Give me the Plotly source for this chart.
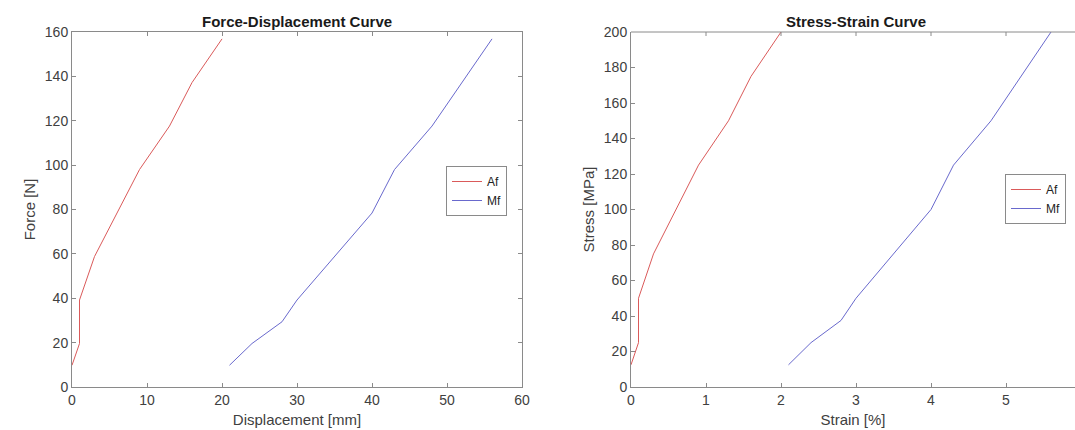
import plotly.graph_objects as go

# Force-displacement data
af_disp = [0, 1, 1, 3, 9, 13, 16, 20]
af_force = [9.8, 19.6, 39.2, 58.8, 98, 117.6, 137.2, 156.9]
mf_disp = [21, 24, 28, 30, 40, 43, 48, 56]
mf_force = [9.8, 19.6, 29.4, 39.2, 78.4, 98, 117.6, 156.9]

# Stress-strain data
af_strain = [0, 0.1, 0.1, 0.3, 0.9, 1.3, 1.6, 2.0]
af_stress = [12.5, 25, 50, 75, 125, 150, 175, 200]
mf_strain = [2.1, 2.4, 2.8, 3.0, 4.0, 4.3, 4.8, 5.6]
mf_stress = [12.5, 25, 37.5, 50, 100, 125, 150, 200]

RED = "rgb(218,90,90)"
BLUE = "rgb(105,105,205)"
AXC = "#8a8a8a"
TXT = "#404040"
FONT = "Liberation Sans, Arial, sans-serif"

W, H = 1075, 430
fig = go.Figure()

fig.add_trace(go.Scatter(x=af_disp, y=af_force, mode="lines", name="Af",
                         line=dict(color=RED, width=1), xaxis="x", yaxis="y", legend="legend"))
fig.add_trace(go.Scatter(x=mf_disp, y=mf_force, mode="lines", name="Mf",
                         line=dict(color=BLUE, width=1), xaxis="x", yaxis="y", legend="legend"))
fig.add_trace(go.Scatter(x=af_strain, y=af_stress, mode="lines", name="Af",
                         line=dict(color=RED, width=1), xaxis="x2", yaxis="y2", legend="legend2"))
fig.add_trace(go.Scatter(x=mf_strain, y=mf_stress, mode="lines", name="Mf",
                         line=dict(color=BLUE, width=1), xaxis="x2", yaxis="y2", legend="legend2"))

ydom = [1 - 387 / H, 1 - 32 / H]
x1dom = [72 / W, 522 / W]
x2dom = [631 / W, 1.0]

common = dict(showgrid=False, zeroline=False, showline=True, linecolor=AXC, linewidth=1,
              ticks="inside", ticklen=4, tickcolor=AXC, tickfont=dict(family=FONT, size=14, color=TXT),
              automargin=False)
tfont = dict(family=FONT, size=15, color=TXT)

fig.update_layout(
    width=W, height=H,
    margin=dict(l=0, r=0, t=0, b=0),
    paper_bgcolor="white", plot_bgcolor="white",
    font=dict(family=FONT, color=TXT),
    xaxis=dict(domain=x1dom, range=[0, 60], dtick=10, mirror="allticks", anchor="y",
               title=dict(text="Displacement [mm]", font=tfont, standoff=7), **common),
    yaxis=dict(domain=ydom, range=[0, 160], dtick=20, mirror="allticks", anchor="x",
               title=dict(text="Force [N]", font=tfont, standoff=5), **common),
    xaxis2=dict(domain=x2dom, range=[0, (W - 631) / 75], tickvals=[0, 1, 2, 3, 4, 5], anchor="y2",
                title=dict(text="Strain [%]", font=tfont, standoff=7), **common),
    yaxis2=dict(domain=ydom, range=[0, 200], dtick=20, anchor="x2",
                title=dict(text="Stress [MPa]", font=tfont, standoff=5), **common),
    legend=dict(x=446 / W, y=1 - 166 / H, xanchor="left", yanchor="top",
                bgcolor="white", bordercolor=AXC, borderwidth=1,
                font=dict(family=FONT, size=12, color="#222"), tracegroupgap=0,
                itemwidth=30),
    legend2=dict(x=1005 / W, y=1 - 174 / H, xanchor="left", yanchor="top",
                 bgcolor="white", bordercolor=AXC, borderwidth=1,
                 font=dict(family=FONT, size=12, color="#222"), tracegroupgap=0,
                 itemwidth=30),
    showlegend=True,
    annotations=[
        dict(text="<b>Force-Displacement Curve</b>", x=(x1dom[0] + x1dom[1]) / 2, y=1 - 22 / H,
             xanchor="center", yanchor="middle",
             xref="paper", yref="paper", showarrow=False, font=dict(family=FONT, size=15, color="#1a1a1a")),
        dict(text="<b>Stress-Strain Curve</b>", x=(631 + 450 / 2) / W, y=1 - 22 / H,
             xanchor="center", yanchor="middle",
             xref="paper", yref="paper", showarrow=False, font=dict(family=FONT, size=15, color="#1a1a1a")),
    ],
    shapes=[
        dict(type="line", xref="x2 domain", yref="y2 domain", x0=0, x1=1, y0=1, y1=1,
             line=dict(color=AXC, width=1)),
    ],
)

# top ticks for right plot
for v in [1, 2, 3, 4, 5]:
    fig.add_shape(type="line", xref="x2", yref="paper", x0=v, x1=v,
                  y0=ydom[1], y1=ydom[1] - 4 / H, line=dict(color=AXC, width=1))

fig.write_html("out.html")
